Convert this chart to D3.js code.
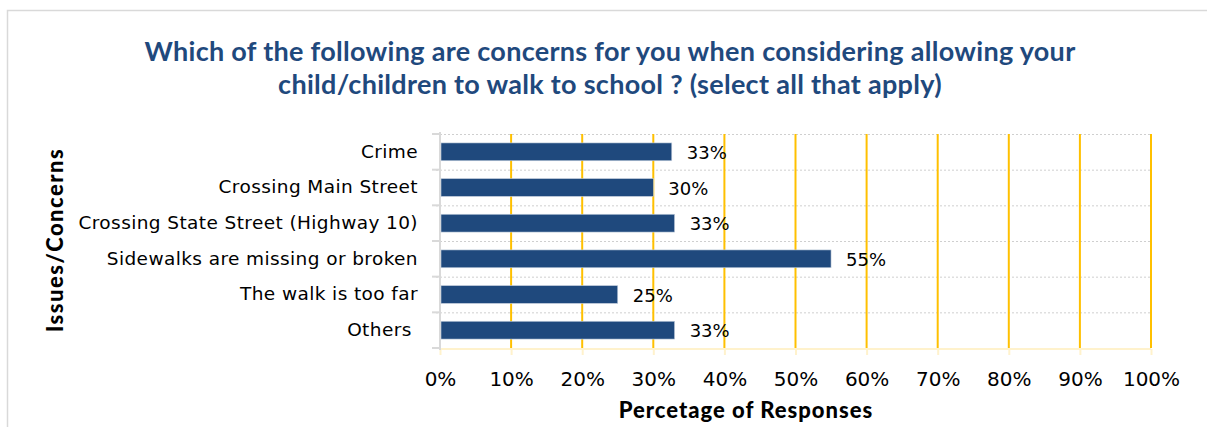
<!DOCTYPE html>
<html>
<head>
<meta charset="utf-8">
<script src="https://cdn.jsdelivr.net/npm/d3@7"></script>
<style>
  html, body { margin: 0; padding: 0; background: #fff; }
  svg { display: block; }
</style>
</head>
<body>
<svg id="chart" width="1207" height="427"></svg>
<script>
// Survey responses: share of parents naming each concern
const categories = [
  "Crime",
  "Crossing Main Street",
  "Crossing State Street (Highway 10)",
  "Sidewalks are missing or broken",
  "The walk is too far",
  "Others "
];
const values = [32.6, 30, 33, 55, 25, 33];
const xTicks = [0, 10, 20, 30, 40, 50, 60, 70, 80, 90, 100];
const titleLines = [
  "Which of the following are concerns for you when considering allowing your",
  "child/children to walk to school ? (select all that apply)"
];

const svg = d3.select("#chart");
const W = 1207, H = 427;
const margin = { left: 440, right: 56, top: 134, bottom: 79 };
const labelFont = "'DejaVu Sans', sans-serif";
const headFont = "Lato, 'Open Sans', sans-serif";

// chart frame
svg.append("rect")
  .attr("x", 7.5).attr("y", 10.5)
  .attr("width", W + 20).attr("height", H + 20)
  .attr("fill", "#fff").attr("stroke", "#d9d9d9").attr("stroke-width", 1.5);

const x = d3.scaleLinear().domain([0, 100]).range([margin.left, W - margin.right]);
const y = d3.scaleBand().domain(categories)
  .range([margin.top, H - margin.bottom]).paddingInner(0.5).paddingOuter(0.25);
const yb = d3.scaleBand().domain(categories).range([margin.top, H - margin.bottom]);

// title
svg.append("g").selectAll("text").data(titleLines).join("text")
  .attr("x", 610).attr("y", (d, i) => 61 + i * 32.5)
  .attr("text-anchor", "middle")
  .style("font-family", headFont)
  .attr("fill", "#1f497d").attr("font-size", 27).attr("font-weight", 700)
  .attr("letter-spacing", 0.3)
  .text(d => d);

// horizontal dotted gridlines at band boundaries
const bounds = categories.map(c => yb(c));
svg.append("g").selectAll("line").data(bounds).join("line")
  .attr("x1", x(0) - 4).attr("x2", x(100))
  .attr("y1", d => d + 0.5).attr("y2", d => d + 0.5)
  .attr("stroke", "#cfcfcf").attr("stroke-width", 1).attr("stroke-dasharray", "2,2");

// vertical gold gridlines
svg.append("g").selectAll("line").data(xTicks.filter(t => t > 0)).join("line")
  .attr("x1", d => x(d)).attr("x2", d => x(d))
  .attr("y1", margin.top).attr("y2", H - margin.bottom)
  .attr("stroke", "#ffc000").attr("stroke-width", 2);

// x axis (pale gold line, ticks and labels)
const xAxis = d3.axisBottom(x).tickValues(xTicks).tickFormat(d => d + "%")
  .tickSize(6).tickPadding(17);
const gx = svg.append("g")
  .attr("transform", `translate(0,${H - margin.bottom + 1})`)
  .call(xAxis);
gx.select(".domain").attr("stroke", "#fff2cc").attr("stroke-width", 2)
  .attr("d", `M${x(0)},0H${x(100)}`);
gx.selectAll(".tick line").attr("stroke", "#fff2cc").attr("stroke-width", 2);
gx.selectAll(".tick text").attr("fill", "#000").attr("font-size", 20)
  .style("font-family", labelFont);

// y axis (gray line with ticks at band boundaries)
svg.append("g").selectAll("line").data(bounds.concat([H - margin.bottom])).join("line")
  .attr("x1", x(0) - 8).attr("x2", x(0))
  .attr("y1", d => d).attr("y2", d => d)
  .attr("stroke", "#d9d9d9").attr("stroke-width", 2);
svg.append("line")
  .attr("x1", x(0)).attr("x2", x(0))
  .attr("y1", margin.top - 2).attr("y2", H - margin.bottom + 2)
  .attr("stroke", "#d9d9d9").attr("stroke-width", 2);

// category labels
const yAxis = d3.axisLeft(y).tickSize(0).tickPadding(22);
const gy = svg.append("g").attr("transform", `translate(${x(0)},0)`).call(yAxis);
gy.select(".domain").remove();
gy.selectAll(".tick text").attr("fill", "#000").attr("font-size", 18.5)
  .attr("letter-spacing", 0.4)
  .style("font-family", labelFont)
  .style("white-space", "pre");

// bars
svg.append("g").selectAll("rect").data(categories).join("rect")
  .attr("x", x(0) + 1)
  .attr("y", d => y(d))
  .attr("width", (d, i) => x(values[i]) - x(0) - 1)
  .attr("height", y.bandwidth())
  .attr("fill", "#1f497d")
  .attr("stroke", "#c9d3e0").attr("stroke-width", 0.6);

// value labels
svg.append("g").selectAll("text").data(categories).join("text")
  .attr("x", (d, i) => x(values[i]) + 15)
  .attr("y", d => y(d) + y.bandwidth() / 2 + 7)
  .attr("fill", "#000").attr("font-size", 18)
  .style("font-family", labelFont)
  .text((d, i) => Math.round(values[i]) + "%");

// axis titles
svg.append("text")
  .attr("transform", "translate(63,240) rotate(-90)")
  .attr("text-anchor", "middle").attr("fill", "#000")
  .style("font-family", headFont)
  .attr("font-size", 22).attr("font-weight", 900)
  .attr("letter-spacing", 1.5)
  .text("Issues/Concerns");

svg.append("text")
  .attr("x", 746).attr("y", 418)
  .attr("text-anchor", "middle").attr("fill", "#000")
  .style("font-family", headFont)
  .attr("font-size", 22).attr("font-weight", 900)
  .attr("letter-spacing", 1)
  .text("Percetage of Responses");
</script>
</body>
</html>
